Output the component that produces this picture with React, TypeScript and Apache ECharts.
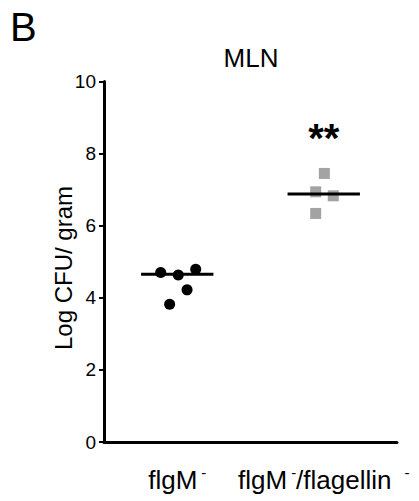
import React, { useEffect, useRef } from 'react';
import * as echarts from 'echarts';

const FONT = '"Liberation Sans", Arial, Helvetica, sans-serif';

// Data
const categories = ['flgM⁻', 'flgM⁻/flagellin ⁻'];
const flgMX = [0.387, 0.507, 0.626, 0.567, 0.448];
const flgMY = [4.7, 4.63, 4.79, 4.22, 3.82];
const flagX = [1.504, 1.445, 1.565, 1.445];
const flagY = [7.45, 6.94, 6.83, 6.34];
const groupCenters = [0.5, 1.5];
const medians = [4.65, 6.88];
const sigText = '**';
const sigX = 1.5;
const sigY = 8.42;
const yMin = 0;
const yMax = 10;
const yStep = 2;
const yName = 'Log CFU/ gram';
const chartTitle = 'MLN';
const panelLetter = 'B';

const HALF = 0.247;

function formatCat(value: string): string {
  const parts = value.split('⁻');
  let out = '';
  parts.forEach((p, i) => {
    const trimmed = p.replace(/\s+$/, '');
    if (trimmed.length) out += '{a|' + trimmed + '}';
    if (i < parts.length - 1) out += '{' + (p.endsWith(' ') ? 'w' : 'n') + '|-}';
  });
  return out;
}

export default function App() {
  const ref = useRef<HTMLDivElement>(null);
  useEffect(() => {
    if (!ref.current) return;
    const chart = echarts.init(ref.current, undefined, { renderer: 'svg' });
    const medianSeries = medians.map((m, i) => ({
      type: 'line',
      xAxisIndex: 1,
      yAxisIndex: 0,
      data: [
        [groupCenters[i] - HALF, m],
        [groupCenters[i] + HALF, m],
      ],
      symbol: 'none',
      lineStyle: { color: '#000', width: 3, opacity: 1 },
      z: 5,
      silent: true,
    }));
    chart.setOption({
      animation: false,
      textStyle: { fontFamily: FONT },
      grid: { left: 104, right: 22, top: 81.5, bottom: 59, containLabel: false },
      xAxis: [
        {
          type: 'category',
          data: categories,
          boundaryGap: true,
          axisLine: { lineStyle: { color: '#000', width: 3 } },
          axisTick: { alignWithLabel: true, length: 5, lineStyle: { color: '#000', width: 2 } },
          axisLabel: {
            interval: 0,
            hideOverlap: false,
            margin: 23,
            color: '#000',
            fontSize: 26,
            fontFamily: FONT,
            formatter: (v: string) => formatCat(v),
            rich: {
              a: { fontSize: 26, lineHeight: 30, fontFamily: FONT, color: '#000' },
              n: { fontSize: 15, lineHeight: 13, verticalAlign: 'top', padding: [0, 0, 0, 4], fontFamily: FONT, color: '#000' },
              w: { fontSize: 15, lineHeight: 13, verticalAlign: 'top', padding: [0, 0, 0, 13], fontFamily: FONT, color: '#000' },
            },
          },
          splitLine: { show: false },
        },
        { type: 'value', min: 0, max: 2, show: false },
      ],
      yAxis: {
        type: 'value',
        min: yMin,
        max: yMax,
        interval: yStep,
        axisLine: { show: true, lineStyle: { color: '#000', width: 3 } },
        axisTick: { show: true, length: 5, lineStyle: { color: '#000', width: 2 } },
        axisLabel: { fontSize: 19, color: '#000', margin: 8, fontFamily: FONT },
        splitLine: { show: false },
      },
      graphic: [
        {
          type: 'text',
          x: 251,
          y: 58,
          style: { text: chartTitle, fontSize: 26, fontFamily: FONT, fill: '#000', align: 'center', verticalAlign: 'middle' },
        },
        {
          type: 'text',
          x: 10,
          y: 26.5,
          style: { text: panelLetter, fontSize: 40, fontFamily: FONT, fill: '#000', align: 'left', verticalAlign: 'middle' },
        },
        {
          type: 'text',
          x: 63,
          y: 268,
          rotation: Math.PI / 2,
          style: { text: yName, fontSize: 24, fontFamily: FONT, fill: '#000', align: 'center', verticalAlign: 'middle' },
        },
      ],
      series: [
        {
          type: 'scatter',
          xAxisIndex: 1,
          data: flgMX.map((x, i) => [x, flgMY[i]]),
          symbol: 'circle',
          symbolSize: 11,
          itemStyle: { color: '#000', opacity: 1 },
          z: 3,
        },
        {
          type: 'scatter',
          xAxisIndex: 1,
          data: flagX.map((x, i) => [x, flagY[i]]),
          symbol: 'rect',
          symbolSize: 11,
          itemStyle: { color: '#a3a3a3', opacity: 1 },
          z: 3,
        },
        ...medianSeries,
        {
          type: 'scatter',
          xAxisIndex: 1,
          data: [[sigX, sigY]],
          symbolSize: 0,
          silent: true,
          itemStyle: { opacity: 1 },
          label: {
            show: true,
            position: 'inside',
            formatter: sigText,
            fontSize: 40,
            fontWeight: 'bold',
            color: '#000',
            opacity: 1,
            fontFamily: FONT,
          },
          z: 6,
        },
      ],
    });
    return () => chart.dispose();
  }, []);
  return <div ref={ref} style={{ position: 'absolute', left: 0, top: 0, width: 419, height: 501 }} />;
}
